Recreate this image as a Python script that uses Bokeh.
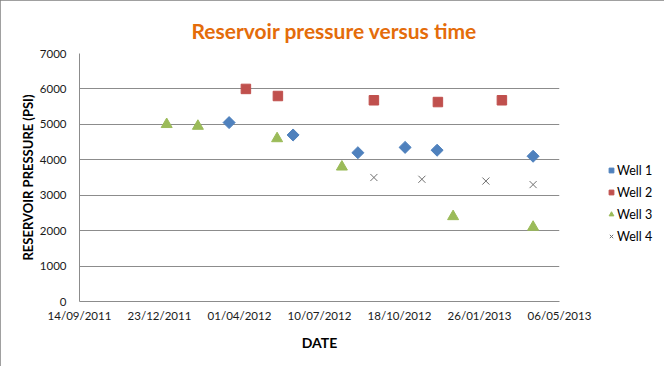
import math
import pandas as pd
from bokeh.plotting import figure
from bokeh.models import (FixedTicker, DatetimeTickFormatter, Legend, LegendItem,
                          Range1d, Title)
from bokeh.embed import file_html
from bokeh.resources import INLINE

# ---- data ----
title_text = "Reservoir pressure versus time"
x_label = "DATE"
y_label = "RESERVOIR PRESSURE (PSI)"

x_ticks = ["2011-09-14", "2011-12-23", "2012-04-01", "2012-07-10",
           "2012-10-18", "2013-01-26", "2013-05-06"]
y_ticks = [0, 1000, 2000, 3000, 4000, 5000, 6000, 7000]

well1_dates = ["2012-03-19", "2012-06-07", "2012-08-27", "2012-10-25", "2012-12-04", "2013-04-03"]
well1_psi = [5050, 4700, 4200, 4350, 4270, 4100]

well2_dates = ["2012-04-09", "2012-05-19", "2012-09-16", "2012-12-05", "2013-02-23"]
well2_psi = [6000, 5800, 5680, 5630, 5680]

well3_dates = ["2012-01-01", "2012-02-09", "2012-05-18", "2012-08-07", "2012-12-24", "2013-04-03"]
well3_psi = [5000, 4950, 4600, 3800, 2400, 2100]

well4_dates = ["2012-09-16", "2012-11-15", "2013-02-03", "2013-04-03"]
well4_psi = [3500, 3450, 3400, 3300]

def dt(lst):
    return pd.to_datetime(lst)

def ms(lst):
    return [int(d.value // 10**6) for d in pd.to_datetime(lst)]

tick_ms = ms(x_ticks)

FONT = "Lato"
GRID = "#8c8c8c"

p = figure(width=664, height=366, x_axis_type="datetime",
           output_backend="svg", toolbar_location=None,
           x_range=Range1d(tick_ms[0], tick_ms[-1]),
           y_range=Range1d(y_ticks[0], y_ticks[-1]),
           frame_width=480, frame_height=248,
           min_border_left=79, min_border_top=53,
           min_border_right=105, min_border_bottom=65)
p.outline_line_color = None
p.background_fill_color = "white"
p.border_fill_color = "white"
p.styles = {"outline": "2px solid #808080", "outline-offset": "-2px"}

p.xgrid.grid_line_color = None
p.ygrid.grid_line_color = GRID
p.ygrid.grid_line_width = 1

for ax in (p.xaxis[0], p.yaxis[0]):
    ax.axis_line_color = GRID
    ax.major_tick_line_color = None
    ax.minor_tick_line_color = None
    ax.major_label_text_font = FONT
    ax.major_label_text_font_size = "11.5px"
    ax.major_label_text_color = "#1a1a1a"
    ax.axis_label_text_font = FONT
    ax.axis_label_text_font_style = "bold"
    ax.axis_label_text_color = "#000000"

p.xaxis.axis_label_text_font_size = "14px"
p.yaxis.axis_label_text_font_size = "13px"

p.xaxis.ticker = FixedTicker(ticks=tick_ms)
fmt = "%d/%m/%Y"
p.xaxis.formatter = DatetimeTickFormatter(
    microseconds=fmt, milliseconds=fmt, seconds=fmt, minsec=fmt, minutes=fmt,
    hourmin=fmt, hours=fmt, days=fmt, months=fmt, years=fmt)
p.yaxis.ticker = FixedTicker(ticks=y_ticks)
p.xaxis.axis_label = x_label
p.yaxis.axis_label = y_label
p.xaxis.major_label_standoff = 1
p.xaxis.axis_label_standoff = 9
p.yaxis.major_label_standoff = 7
p.yaxis.axis_label_standoff = 1

r1 = p.scatter(dt(well1_dates), well1_psi, marker="square", size=8.5,
               angle=math.pi / 4,
               fill_color="#4F81BD", line_color="#4F81BD")
r2 = p.scatter(dt(well2_dates), well2_psi, marker="square", size=9.5,
               fill_color="#C0504D", line_color="#C0504D")
r3 = p.scatter(dt(well3_dates), well3_psi, marker="triangle", size=11,
               fill_color="#9BBB59", line_color="#9BBB59")
r4 = p.scatter(dt(well4_dates), well4_psi, marker="x", size=10,
               line_color="#6F6F6F", line_width=1)

legend = Legend(items=[LegendItem(label="Well 1", renderers=[r1]),
                       LegendItem(label="Well 2", renderers=[r2]),
                       LegendItem(label="Well 3", renderers=[r3]),
                       LegendItem(label="Well 4", renderers=[r4])],
                location=(46, 57), padding=0, margin=0, spacing=6,
                glyph_width=12, glyph_height=16, label_height=12,
                label_standoff=0, border_line_color=None,
                background_fill_alpha=0,
                label_text_font=FONT, label_text_font_size="12.5px",
                label_text_color="#000000")
p.add_layout(legend, "right")

p.title = Title(text=title_text, align="left", offset=112, standoff=22,
                text_font=FONT, text_font_size="21px", text_font_style="bold",
                text_color="#E46C0A")

open("out.html", "w").write(file_html(p, INLINE))
